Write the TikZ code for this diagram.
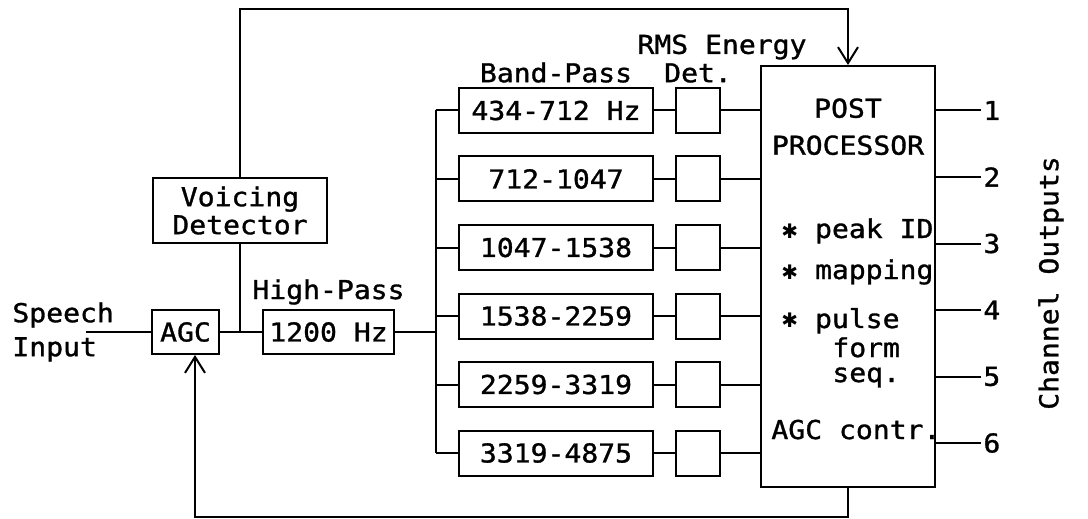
\documentclass[tikz,border=0pt]{standalone}
\usepackage{fontspec}
\setmainfont{DejaVu Sans Mono}[FakeStretch=1.08, FakeBold=1.2]
\newfontfamily\symfont{DejaVu Sans}
\usetikzlibrary{positioning,arrows.meta}

\begin{document}
\begin{tikzpicture}[
    x=0.5pt, y=-0.5pt,
    node distance=10.75pt and 10.5pt,
    every node/.style={font=\fontsize{13}{16}\selectfont},
    box/.style={draw, line width=1pt, inner sep=0pt, minimum height=22.5pt},
    filt/.style={box, minimum width=97pt},
    det/.style={box, minimum width=22pt},
    lbl/.style={inner sep=1pt},
    num/.style={inner sep=1pt, anchor=west},
    item/.style={inner sep=0pt, anchor=base west},
    wire/.style={line width=1pt},
    fb/.style={line width=1pt, -{Straight Barb[length=8pt, width=10pt, line width=1pt]}}
    ]
  \useasboundingbox (0,0) rectangle (1088,519);

  % input stage
  \node[box, minimum width=33.5pt, minimum height=22pt] (agc) at (185.5,332) {AGC};
  \node[box, minimum width=65.5pt, minimum height=22pt, right=21pt of agc] (hp) {1200 Hz};
  \node[lbl, above=1pt of hp] (hplab) {High-Pass};
  \node[box, minimum width=87pt, minimum height=32.5pt, align=center,
        font=\fontsize{13}{14}\selectfont] (vd) at (240,210.5) {Voicing\\Detector};
  \node[lbl, align=left, anchor=west, font=\fontsize{13}{17}\selectfont] (spk) at (10,332) {Speech\\Input};
  \coordinate (in)   at (86,332);
  \coordinate (bus)  at (436,0);
  \coordinate (ftop) at (0,9);
  \coordinate (fbot) at (195,517);

  % filter bank
  \node[filt] (bp1) at (556,110.5) {434-712 Hz};
  \node[filt] (bp2) [below=of bp1] {712-1047};
  \node[filt] (bp3) [below=of bp2] {1047-1538};
  \node[filt] (bp4) [below=of bp3] {1538-2259};
  \node[filt] (bp5) [below=of bp4] {2259-3319};
  \node[filt] (bp6) [below=of bp5] {3319-4875};
  \node[det]  (det1) [right=of bp1] {};
  \node[det]  (det2) [right=of bp2] {};
  \node[det]  (det3) [right=of bp3] {};
  \node[det]  (det4) [right=of bp4] {};
  \node[det]  (det5) [right=of bp5] {};
  \node[det]  (det6) [right=of bp6] {};
  \node[lbl, above=1pt of bp1]  (bplab)  {Band-Pass};
  \node[lbl, above=1pt of det1] (detlab) {Det.};
  \node[lbl] (rmslab) at (722,47) {RMS Energy};

  % post processor
  \node[box, minimum width=87pt, minimum height=210.5pt] (post) at (848,276.5) {};
  \node[lbl, align=center, anchor=north, font=\fontsize{13}{18.5}\selectfont] (ptitle) at (848,96) {POST\\PROCESSOR};
  \node[item] (pk) at (781,238) {{\symfont\fontsize{10}{10}\selectfont ✱}\ peak ID};
  \node[item] (mp) at (781,279) {{\symfont\fontsize{10}{10}\selectfont ✱}\ mapping};
  \node[item] (pl) at (781,328) {{\symfont\fontsize{10}{10}\selectfont ✱}\ pulse};
  \node[item] (fm) at (832,357) {form};
  \node[item] (sq) at (832,382) {seq.};
  \node[item] (ac) at (771,439) {AGC contr.};

  % channel outputs
  \node[num] (o1) at (981,110.5) {1};
  \node[num] (o2) at (981,177)   {2};
  \node[num] (o3) at (981,243.5) {3};
  \node[num] (o4) at (981,310)   {4};
  \node[num] (o5) at (981,376.5) {5};
  \node[num] (o6) at (981,443)   {6};
  \node[lbl, rotate=90] (chlab) at (1051,283) {Channel Outputs};

  % connections
  \draw[wire] (in) -- (agc);
  \draw[wire] (agc) -- (hp);
  \draw[wire] (vd.south) -- (vd.south |- agc);
  \draw[wire] (hp) -- (hp -| bus);
  \draw[wire] (bus |- bp1) -- (bus |- bp6);
  \draw[wire] (bus |- bp1) -- (bp1);
  \draw[wire] (bus |- bp2) -- (bp2);
  \draw[wire] (bus |- bp3) -- (bp3);
  \draw[wire] (bus |- bp4) -- (bp4);
  \draw[wire] (bus |- bp5) -- (bp5);
  \draw[wire] (bus |- bp6) -- (bp6);
  \draw[wire] (bp1) -- (det1) -- (det1 -| post.west);
  \draw[wire] (bp2) -- (det2) -- (det2 -| post.west);
  \draw[wire] (bp3) -- (det3) -- (det3 -| post.west);
  \draw[wire] (bp4) -- (det4) -- (det4 -| post.west);
  \draw[wire] (bp5) -- (det5) -- (det5 -| post.west);
  \draw[wire] (bp6) -- (det6) -- (det6 -| post.west);
  \draw[wire] (post.east |- o1) -- (o1);
  \draw[wire] (post.east |- o2) -- (o2);
  \draw[wire] (post.east |- o3) -- (o3);
  \draw[wire] (post.east |- o4) -- (o4);
  \draw[wire] (post.east |- o5) -- (o5);
  \draw[wire] (post.east |- o6) -- (o6);

  % feedback loops
  \draw[fb] (vd.north) -- (vd.north |- ftop) -- (post.north |- ftop) -- (post.north);
  \draw[fb] (post.south) -- (post.south |- fbot) -- (fbot) -- (fbot |- agc.south);
\end{tikzpicture}
\end{document}
